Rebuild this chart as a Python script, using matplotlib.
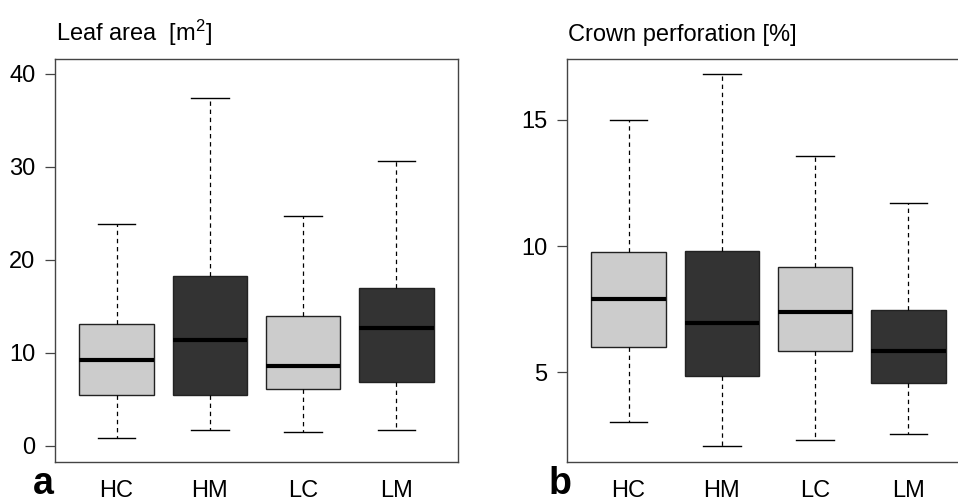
import matplotlib
matplotlib.use("Agg")
import matplotlib.pyplot as plt

plt.rcParams["font.family"] = ["Liberation Sans", "DejaVu Sans"]
plt.rcParams["mathtext.fontset"] = "custom"
plt.rcParams["mathtext.rm"] = "Liberation Sans"
plt.rcParams["mathtext.it"] = "Liberation Sans"

groups = ["HC", "HM", "LC", "LM"]
fills = ["#cccccc", "#333333", "#cccccc", "#333333"]

# leaf area [m2]: lower whisker, Q1, median, Q3, upper whisker
leaf_low = [0.86, 1.72, 1.5, 1.72]
leaf_q1 = [5.5, 5.5, 6.16, 6.85]
leaf_med = [9.25, 11.35, 8.6, 12.7]
leaf_q3 = [13.1, 18.3, 14.0, 17.0]
leaf_high = [23.9, 37.45, 24.7, 30.6]

# crown perforation [%]
crown_low = [3.03, 2.05, 2.30, 2.54]
crown_q1 = [6.01, 4.86, 5.85, 4.58]
crown_med = [7.89, 6.95, 7.39, 5.85]
crown_q3 = [9.75, 9.80, 9.18, 7.46]
crown_high = [14.98, 16.81, 13.59, 11.72]

FS = 17


def make_stats(low, q1, med, q3, high):
    return [
        {"whislo": a, "q1": b, "med": c, "q3": d, "whishi": e, "fliers": [], "label": g}
        for a, b, c, d, e, g in zip(low, q1, med, q3, high, groups)
    ]


def draw_panel(ax, stats, ylim, yticks, title):
    bp = ax.bxp(
        stats,
        positions=range(1, len(stats) + 1),
        widths=0.8,
        patch_artist=True,
        showfliers=False,
        boxprops=dict(edgecolor="#222222", linewidth=1.0),
        medianprops=dict(color="black", linewidth=3.0, solid_capstyle="butt"),
        whiskerprops=dict(color="black", linewidth=0.9, linestyle=(0, (3.5, 3))),
        capprops=dict(color="black", linewidth=1.0),
        capwidths=0.4,
    )
    for patch, col in zip(bp["boxes"], fills):
        patch.set_facecolor(col)

    ax.set_xlim(0.34, 4.66)
    ax.set_ylim(*ylim)
    ax.set_yticks(yticks)
    ax.set_yticklabels([str(t) for t in yticks])
    ax.tick_params(axis="y", length=7, width=0.9, color="#444444", pad=7, labelsize=FS)
    ax.tick_params(axis="x", length=0, pad=13, labelsize=FS)
    for sp in ax.spines.values():
        sp.set_color("#444444")
        sp.set_linewidth(1.0)

    ax.annotate(title, xy=(0, 1), xycoords="axes fraction", xytext=(1, 13),
                textcoords="offset points", ha="left", va="baseline", fontsize=FS)


fig = plt.figure(figsize=(9.58, 5.03), dpi=100)
ax1 = fig.add_axes([55 / 958, 41 / 503, 403 / 958, 403 / 503])
ax2 = fig.add_axes([567 / 958, 41 / 503, 403 / 958, 403 / 503])

draw_panel(ax1, make_stats(leaf_low, leaf_q1, leaf_med, leaf_q3, leaf_high),
           (-1.72, 41.6), [0, 10, 20, 30, 40], r"Leaf area  [m$^{2}$]")
draw_panel(ax2, make_stats(crown_low, crown_q1, crown_med, crown_q3, crown_high),
           (1.43, 17.42), [5, 10, 15], "Crown perforation [%]")

fig.text(43 / 958, 1 / 503, "a", ha="center", va="bottom", fontsize=27, fontweight="bold")
fig.text(560 / 958, 1 / 503, "b", ha="center", va="bottom", fontsize=27, fontweight="bold")

fig.savefig("out.png", dpi=100)
